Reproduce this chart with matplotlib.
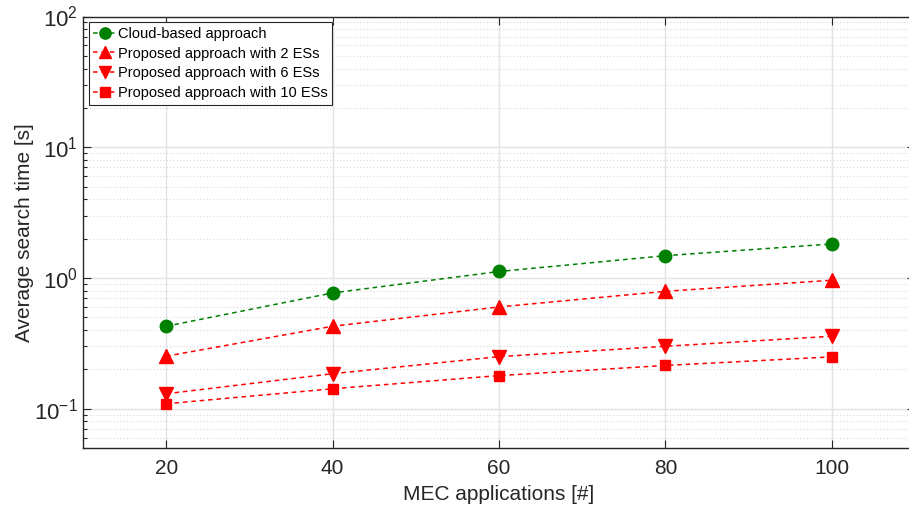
import matplotlib
matplotlib.use("Agg")
import matplotlib.pyplot as plt
from matplotlib.ticker import LogLocator, NullFormatter

plt.rcParams['font.family'] = ['Liberation Sans', 'DejaVu Sans']
plt.rcParams['mathtext.fontset'] = 'custom'
plt.rcParams['mathtext.rm'] = 'Liberation Sans'
plt.rcParams['mathtext.it'] = 'Liberation Sans:italic'
plt.rcParams['mathtext.bf'] = 'Liberation Sans:bold'
plt.rcParams['mathtext.default'] = 'regular'

apps = [20, 40, 60, 80, 100]
cloud = [0.427, 0.768, 1.12, 1.48, 1.82]
es2 = [0.252, 0.427, 0.60, 0.79, 0.96]
es6 = [0.130, 0.185, 0.25, 0.30, 0.358]
es10 = [0.109, 0.142, 0.179, 0.214, 0.249]
labels = ["Cloud-based approach", "Proposed approach with 2 ESs",
          "Proposed approach with 6 ESs", "Proposed approach with 10 ESs"]

fig = plt.figure(figsize=(9.09, 5.16), dpi=100)
ax = fig.add_axes([83/909, 1 - 448/516, 832/909, (448-16.5)/516])

dash = (0, (3, 2.5))
ax.plot(apps, cloud, linestyle=dash, color='#008000', marker='o', markersize=9, lw=1.1, label=labels[0])
ax.plot(apps, es2, linestyle=dash, color='#ff0000', marker='^', markersize=10, lw=1.1, label=labels[1])
ax.plot(apps, es6, linestyle=dash, color='#ff0000', marker='v', markersize=10, lw=1.1, label=labels[2])
ax.plot(apps, es10, linestyle=dash, color='#ff0000', marker='s', markersize=7.5, lw=1.1, label=labels[3])

ax.set_yscale('log')
ax.set_ylim(0.05, 100)
ax.set_xlim(10, 110)
ax.set_xticks([20, 40, 60, 80, 100])
ax.yaxis.set_major_locator(LogLocator(base=10, numticks=10))
ax.yaxis.set_minor_locator(LogLocator(base=10, subs=range(2, 10), numticks=20))
ax.yaxis.set_minor_formatter(NullFormatter())

ax.grid(True, which='major', color='#e3e3e3', linestyle='-', linewidth=1.0)
ax.grid(True, which='minor', axis='y', color='#d9d9d9', linestyle=(0, (1, 2)), linewidth=0.8)
ax.set_axisbelow(True)

ax.tick_params(which='both', direction='in', top=True, right=True, labelsize=15, colors='#262626')
ax.tick_params(axis='y', labelsize=16)
ax.tick_params(which='major', length=6, width=0.8)
ax.tick_params(which='minor', length=3, width=0.8)
ax.tick_params(axis='x', pad=8)
for s in ax.spines.values():
    s.set_color('#262626')
    s.set_linewidth(1.0)

ax.set_xlabel('MEC applications [#]', fontsize=15, color='#262626', labelpad=5)
ax.set_ylabel('Average search time [s]', fontsize=15, color='#262626', labelpad=0)

leg = ax.legend(loc='upper left', fontsize=10.5, frameon=True, fancybox=False,
                edgecolor='#262626', handlelength=1.6, handletextpad=0.1,
                borderpad=0.3, labelspacing=0.4, borderaxespad=0.4, markerscale=0.9,
                framealpha=1)
leg.get_frame().set_linewidth(0.8)

fig.savefig('out.png', dpi=100)
